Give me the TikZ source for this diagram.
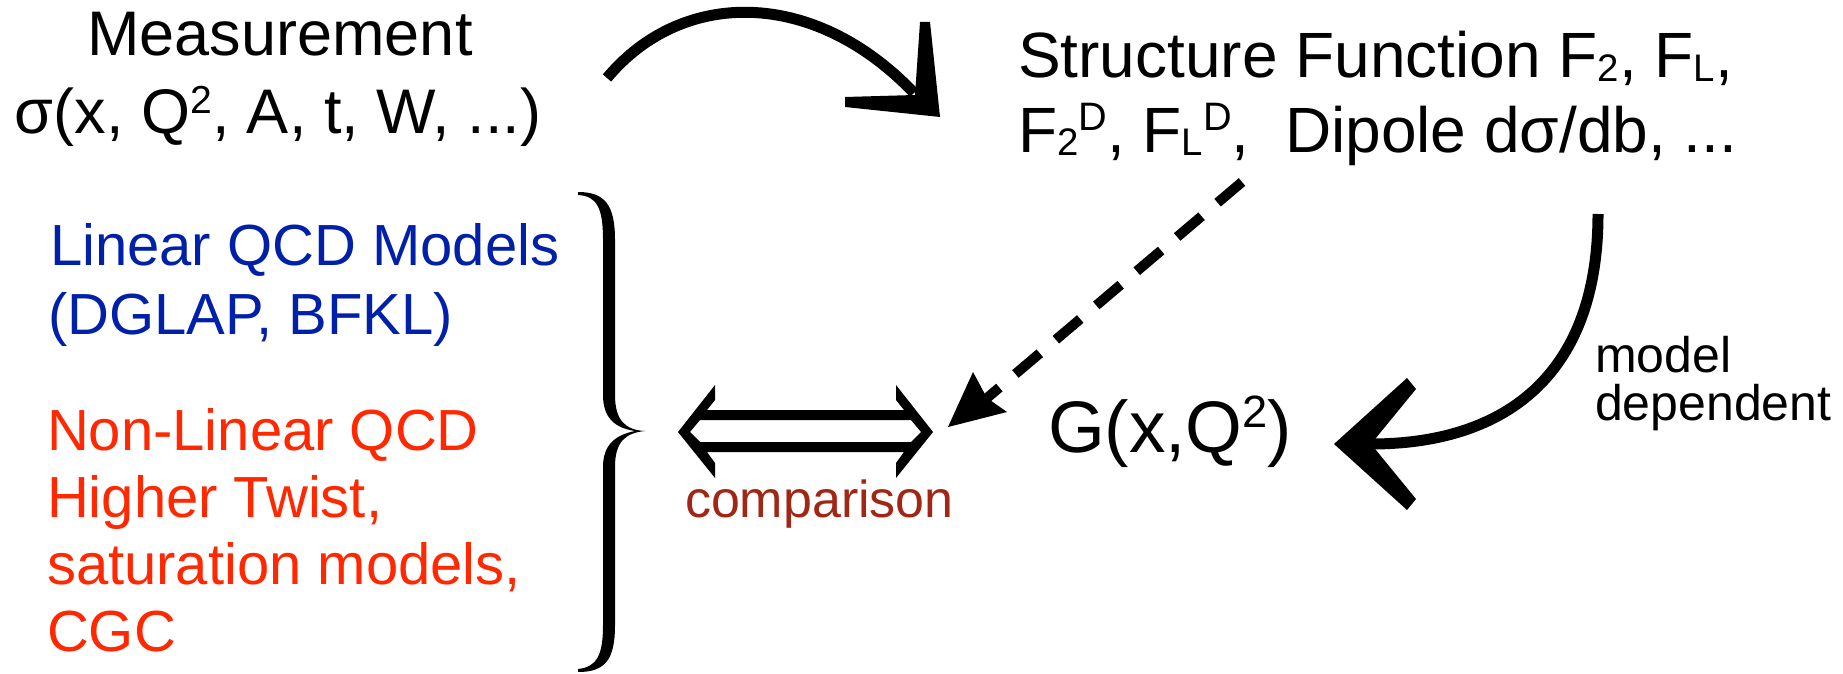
\documentclass[tikz,border=0pt]{standalone}
\usepackage{fontspec}
\setmainfont{Liberation Sans}
\usetikzlibrary{calc}
\definecolor{qblue}{RGB}{0,32,170}
\definecolor{qred}{RGB}{255,40,0}
\definecolor{qbrown}{RGB}{160,38,22}
\newcommand{\lo}[1]{\raisebox{-0.05em}{\scalebox{0.6}{#1}}}
\newcommand{\hi}[1]{\raisebox{0.33em}{\scalebox{0.62}{#1}}}
\begin{document}
\begin{tikzpicture}[x=1pt,y=-1pt,
  txt/.style={anchor=base west,inner sep=0pt,outer sep=0pt},
  ctxt/.style={anchor=base,inner sep=0pt,outer sep=0pt},
  fmain/.style={font=\fontsize{63}{63}\selectfont},
  fstruct/.style={font=\fontsize{64}{64}\selectfont},
  fleft/.style={font=\fontsize{58}{58}\selectfont},
  fbig/.style={font=\fontsize{73}{73}\selectfont},
  fsmall/.style={font=\fontsize{50}{50}\selectfont},
  fcmp/.style={font=\fontsize{52}{52}\selectfont},
  shaft/.style={line width=11pt,line cap=butt},
  dshaft/.style={line width=10pt,line cap=butt,dash pattern=on 32pt off 21pt}]
\useasboundingbox (0,0) rectangle (1843,674);

% texts
\node[ctxt,fmain] (meas1) at (280,56) {Measurement};
\node[ctxt,fmain] (meas2) at (278,134) {σ(x, Q\hi{2}, A, t, W, ...)};
\node[txt,fstruct] (sf1) at (1018,78) {Structure Function F\lo{2}, F\lo{L},};
\node[txt,fstruct] (sf2) at (1018,152) {F\lo{2}\hi{D}, F\lo{L}\hi{D},\ \ Dipole dσ/db, ...};
\node[txt,fleft,text=qblue] (lin1) at (50,265) {Linear QCD Models};
\node[txt,fleft,text=qblue] (lin2) at (48,334) {(DGLAP, BFKL)};
\node[txt,fleft,text=qred] (nl1) at (47,450) {Non-Linear QCD};
\node[txt,fleft,text=qred] (nl2) at (47,517) {Higher Twist,};
\node[txt,fleft,text=qred] (nl3) at (47,584) {saturation models,};
\node[txt,fleft,text=qred] (nl4) at (47,651) {CGC};
\node[txt,fbig] (G) at (1048,452) {G(x,Q\hi{2})};
\node[txt,fsmall] (md1) at (1595,372) {model};
\node[txt,fsmall] (md2) at (1595,420) {dependent};
\node[txt,fcmp,text=qbrown] (cmp) at (685,517) {comparison};

% arrow end points
\coordinate (a0) at (607,78);
\coordinate (a1) at (914,93);
\coordinate (A) at (940,117);
\coordinate (d0) at (1242,182);
\coordinate (d1) at (987,398);
\coordinate (D) at (948,427);
\coordinate (m0) at (1598,214);
\coordinate (m1) at (1371,444);
\coordinate (M) at (1334,444);
\coordinate (br) at (0,0);

% top arc arrow
\draw[shaft] (a0) .. controls (682,-12) and (814,-12) .. (a1);
\fill[shift={(A)}] (0,0) -- (-95,-10) -- (-95,-20) -- (-25,-22) -- (-20,-95) -- (-10,-95) -- cycle;

% dashed arrow
\draw[dshaft] (d0) -- (d1);
\fill[shift={(D)}] (0,0) -- (25,-55) -- (39,-29) -- (59,-15) -- cycle;

% model dependent arrow
\draw[shaft] (m0) .. controls (1598,380) and (1500,444) .. (m1);
\fill[shift={(M)}] (0,0) -- (73,-66) -- (82,-55) -- (37,0) -- (82,55) -- (73,66) -- cycle;

% comparison double arrow
\fill[even odd rule] (678,432) -- (715,385) -- (715,400) -- (707,410) -- (904,410) -- (896,400) -- (896,385) -- (933,432) -- (896,478) -- (896,463) -- (904,452) -- (707,452) -- (715,463) -- (715,478) -- cycle
  (690,432) -- (700,420) -- (911,420) -- (921,432) -- (911,442) -- (700,442) -- cycle;

% brace
\fill (578,192) .. controls (605,192) and (615,205) .. (615,240) -- (615,395)
  .. controls (615,420) and (625,430) .. (645,431)
  .. controls (625,433) and (615,442) .. (615,467) -- (615,625)
  .. controls (615,660) and (605,672) .. (578,672) -- (578,669)
  .. controls (597,667) and (603,655) .. (603,625) -- (603,467)
  .. controls (603,445) and (615,435) .. (635,431)
  .. controls (615,428) and (603,418) .. (603,395) -- (603,240)
  .. controls (603,208) and (597,196) .. (578,195) -- cycle;
\end{tikzpicture}
\end{document}
